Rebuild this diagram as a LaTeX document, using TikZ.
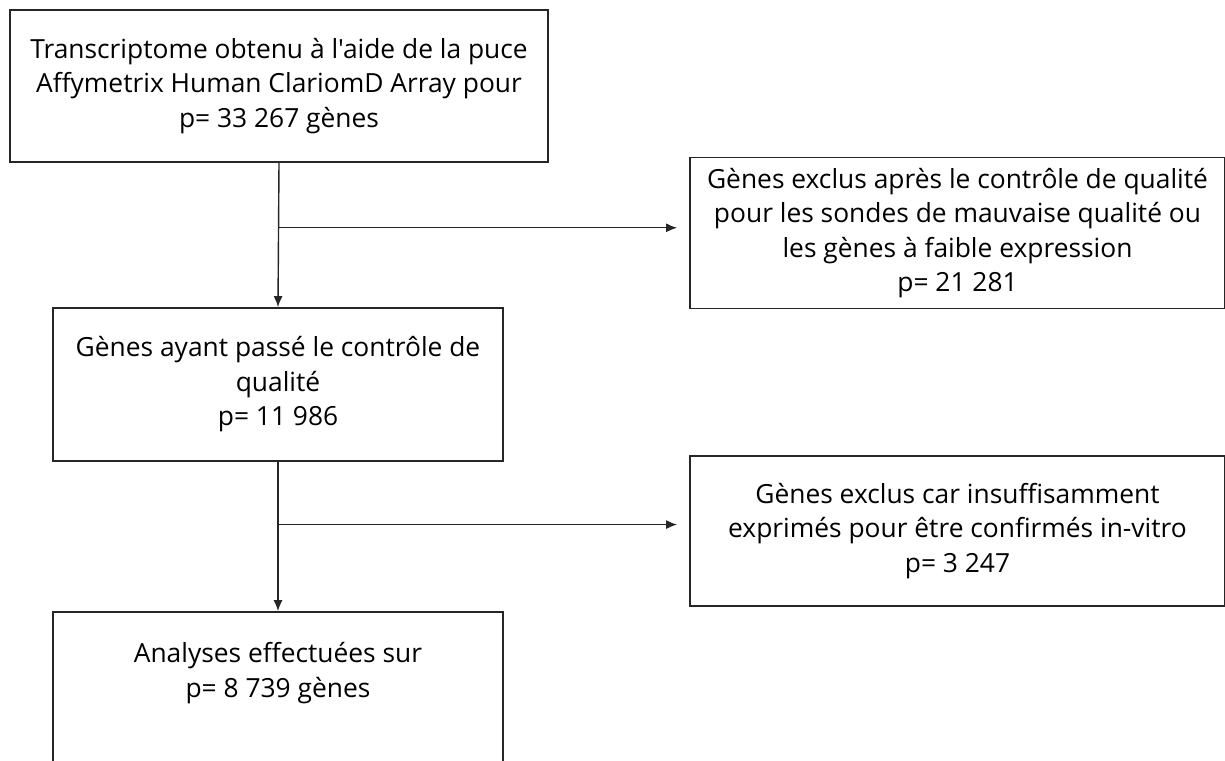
\documentclass[tikz,border=0pt]{standalone}
\usepackage{fontspec}
\setmainfont{Open Sans}[Ligatures=TeXOff]
\usepackage{tikz}
\usetikzlibrary{arrows.meta, positioning, calc}
\tikzset{
  flowbox/.style={
    draw=black!85, line width=1pt, align=center,
    font=\fontsize{15}{19.6}\selectfont, fill=white, inner sep=2pt
  },
  mainbox/.style={
    flowbox, minimum width=9cm, minimum height=3.06cm
  },
  sidebox/.style={
    flowbox, minimum width=10.7cm, minimum height=3.02cm
  },
  flowarrow/.style={
    -{Latex[length=2.2mm, width=1.8mm]}, line width=0.8pt, color=black!85
  },
}

\begin{document}
\begin{tikzpicture}
  \useasboundingbox (0,0) rectangle (24.5,-15.2);

  % --- Main column ---
  \node[mainbox, minimum width=10.76cm, minimum height=3.04cm] (transcr) at (5.58,-1.72)
    {Transcriptome obtenu à l'aide de la puce\\
     Affymetrix Human ClariomD Array pour\\
     p= 33 267 gènes};

  \node[mainbox] (passed) at (5.56,-7.69)
    {Gènes ayant passé le contrôle de\\
     qualité\\
     p= 11 986};

  \node[mainbox, minimum height=3.0cm] (analyses) at (5.56,-13.74)
    {Analyses effectuées sur\\
     p= 8 739 gènes\\
     \mbox{}};

  % --- Excluded genes ---
  \node[sidebox] (exclqc) at (19.15,-4.66)
    {Gènes exclus après le contrôle de qualité\\
     pour les sondes de mauvaise qualité ou\\
     les gènes à faible expression\\
     p= 21 281};

  \node[sidebox, minimum height=3.0cm] (exclvitro) at (19.15,-10.62)
    {Gènes exclus car insuffisamment\\
     exprimés pour être confirmés in-vitro\\
     p= 3 247};

  % Arrows
  \coordinate (split1) at ($(transcr.south)!0.45!(passed.north)$);
  \coordinate (split2) at ($(passed.south)!0.42!(analyses.north)$);

  \draw[flowarrow] (transcr.south) -- (passed.north);
  \draw[flowarrow, shorten >=0.24cm] (split1) -- (split1 -| exclqc.west);

  \draw[flowarrow] (passed.south) -- (analyses.north);
  \draw[flowarrow, shorten >=0.24cm] (split2) -- (split2 -| exclvitro.west);
\end{tikzpicture}
\end{document}
